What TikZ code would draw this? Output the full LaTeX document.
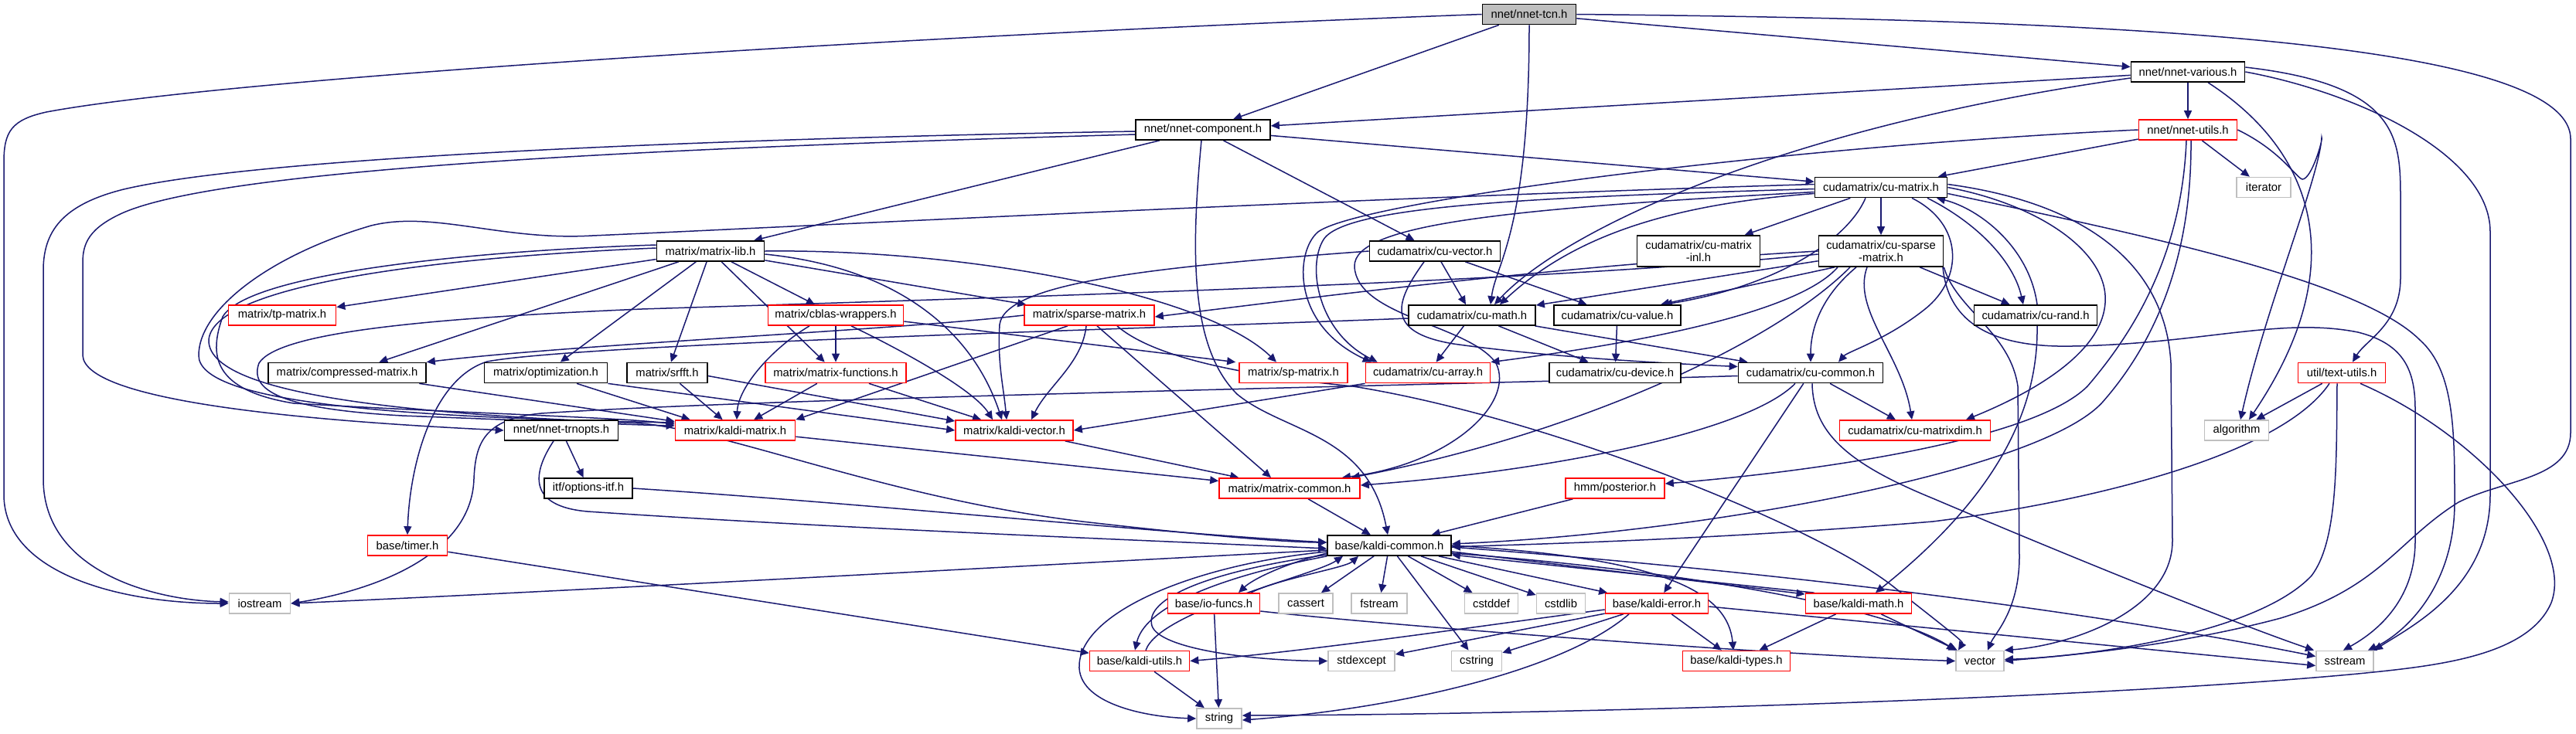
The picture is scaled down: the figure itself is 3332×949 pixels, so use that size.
\documentclass[tikz,border=0pt]{standalone}
\usepackage{fontspec}
\setmainfont{Liberation Sans}
\usetikzlibrary{arrows.meta}
\pgfdeclarelayer{background}
\pgfsetlayers{background,main}
\definecolor{edgeblue}{HTML}{191970}
\definecolor{sysgray}{HTML}{BFBFBF}
\definecolor{rootgray}{HTML}{BFBFBF}
\newcommand{\fnt}{\fontsize{7.4pt}{7.8pt}\selectfont}
\begin{document}
\begin{tikzpicture}[x=0.5pt,y=-0.5pt,
  nd/.style={draw=black, line width=0.85pt, fill=white, inner sep=0pt, minimum height=13pt, font=\fnt, align=center},
  trunc/.style={nd, draw=red},
  sysh/.style={nd, draw=sysgray},
  root/.style={nd, fill=rootgray},
  two/.style={minimum height=20pt},
  dep/.style={draw=edgeblue, line width=0.75pt, -{Triangle[length=5.5pt,width=5pt]}}]
\useasboundingbox (0,0) rectangle (3332,949);
% ---------------- nodes ----------------
\node[root, minimum width=60.5pt] (tcn) at (1978,18.5) {nnet/nnet-tcn.h};
\node[nd, minimum width=73.5pt] (various) at (2830,93) {nnet/nnet-various.h};
\node[nd, minimum width=87pt] (comp) at (1556,168) {nnet/nnet-component.h};
\node[trunc, minimum width=63.5pt] (utils) at (2830,168) {nnet/nnet-utils.h};
\node[nd, minimum width=85.5pt] (cumat) at (2433,242.5) {cudamatrix/cu-matrix.h};
\node[sysh, minimum width=35pt] (iter) at (2928,242.5) {iterator};
\node[nd, minimum width=69.5pt] (mlib) at (919,325) {matrix/matrix-lib.h};
\node[nd, minimum width=84.5pt] (cuvec) at (1856,325) {cudamatrix/cu-vector.h};
\node[nd, two, minimum width=79.5pt] (cuinl) at (2197,325) {cudamatrix/cu-matrix\\-inl.h};
\node[nd, two, minimum width=80.5pt] (cusp) at (2433,325) {cudamatrix/cu-sparse\\-matrix.h};
\node[trunc, minimum width=69.5pt] (tp) at (365,408) {matrix/tp-matrix.h};
\node[trunc, minimum width=87.5pt] (cblas) at (1081,408) {matrix/cblas-wrappers.h};
\node[trunc, minimum width=84pt] (sparse) at (1409,408) {matrix/sparse-matrix.h};
\node[nd, minimum width=82pt] (cumath) at (1904,408) {cudamatrix/cu-math.h};
\node[nd, minimum width=82pt] (cuval) at (2092,408) {cudamatrix/cu-value.h};
\node[nd, minimum width=79.5pt] (curand) at (2633,408) {cudamatrix/cu-rand.h};
\node[nd, minimum width=102pt] (compr) at (449,482.5) {matrix/compressed-matrix.h};
\node[nd, minimum width=79.5pt] (optim) at (706,482.5) {matrix/optimization.h};
\node[nd, minimum width=52pt] (srfft) at (863,482.5) {matrix/srfft.h};
\node[trunc, minimum width=91pt] (mfun) at (1081,482.5) {matrix/matrix-functions.h};
\node[trunc, minimum width=70pt] (sp) at (1673,482.5) {matrix/sp-matrix.h};
\node[trunc, minimum width=80.5pt] (cuarr) at (1847,482.5) {cudamatrix/cu-array.h};
\node[nd, minimum width=85pt] (cudev) at (2089,482.5) {cudamatrix/cu-device.h};
\node[nd, minimum width=93.5pt] (cucom) at (2342,482.5) {cudamatrix/cu-common.h};
\node[trunc, minimum width=56.5pt] (textu) at (3029,482.5) {util/text-utils.h};
\node[nd, minimum width=73.5pt] (trn) at (726,557) {nnet/nnet-trnopts.h};
\node[trunc, minimum width=77.5pt] (kmat) at (951,557) {matrix/kaldi-matrix.h};
\node[trunc, minimum width=76pt] (kvec) at (1312,557) {matrix/kaldi-vector.h};
\node[trunc, minimum width=97.5pt] (dim) at (2477,557) {cudamatrix/cu-matrixdim.h};
\node[sysh, minimum width=41.5pt] (algo) at (2893,557) {algorithm};
\node[nd, minimum width=57pt] (itf) at (761,632) {itf/options-itf.h};
\node[trunc, minimum width=91pt] (mcom) at (1668,632) {matrix/matrix-common.h};
\node[trunc, minimum width=64pt] (post) at (2089,632) {hmm/posterior.h};
\node[nd, minimum width=80pt] (kcom) at (1797,706) {base/kaldi-common.h};
\node[trunc, minimum width=51.5pt] (timer) at (527,706) {base/timer.h};
\node[sysh, minimum width=39.5pt] (iostr) at (336,781) {iostream};
\node[trunc, minimum width=59.5pt] (iof) at (1570,781) {base/io-funcs.h};
\node[sysh, minimum width=35pt] (cassert) at (1689,781) {cassert};
\node[sysh, minimum width=36pt] (fstream) at (1784,781) {fstream};
\node[sysh, minimum width=34.5pt] (cstddef) at (1929,781) {cstddef};
\node[sysh, minimum width=31.5pt] (cstdlib) at (2019,781) {cstdlib};
\node[trunc, minimum width=66.5pt] (kerr) at (2143,781) {base/kaldi-error.h};
\node[trunc, minimum width=68.5pt] (kmath) at (2404,781) {base/kaldi-math.h};
\node[sysh, minimum width=43pt] (stdexc) at (1761,855.5) {stdexcept};
\node[sysh, minimum width=32.5pt] (cstring) at (1910,855.5) {cstring};
\node[trunc, minimum width=69.5pt] (ktypes) at (2246,855.5) {base/kaldi-types.h};
\node[trunc, minimum width=64.5pt] (kutils) at (1474,855.5) {base/kaldi-utils.h};
\node[sysh, minimum width=31pt] (vector) at (2561,855.5) {vector};
\node[sysh, minimum width=37pt] (sstream) at (3033,855.5) {sstream};
\node[sysh, minimum width=29pt] (string) at (1577,930) {string};
% ---------------- edges ----------------
\begin{pgfonlayer}{background}
\fill[white] (0,0) rectangle (3332,949);
% tcn
\draw[dep] (tcn.west) .. controls (1200,45) and (300,100) .. (60,145) .. controls (15,155) and (5,170) .. (5,210) -- (5,640) .. controls (5,740) and (150,781) .. (iostr.west);
\draw[dep] (tcn) -- (comp);
\draw[dep] (tcn.south) .. controls (1978,300) and (1935,340) .. ([xshift=12pt]cumath.north);
\draw[dep] (tcn) -- (various);
\draw[dep] (tcn.east) .. controls (2700,25) and (3325,50) .. (3325,180) -- (3325,560) .. controls (3325,620) and (3240,620) .. (3180,650) .. controls (3100,700) and (3080,760) .. (2950,800) .. controls (2800,840) and (2650,850) .. (vector.east);
% various
\draw[dep] (various) -- (comp);
\draw[dep] ([yshift=-4pt]various.west) .. controls (2300,165) and (2020,300) .. ([xshift=14.5pt]cumath.north);
\draw[dep] (various) -- (utils);
\draw[dep] ([xshift=13pt]various.south) .. controls (3000,200) and (3040,350) .. ([xshift=8pt]algo.north);
\draw[dep] ([yshift=3pt]various.east) .. controls (3105,110) and (3105,180) .. (3105,260) -- (3105,360) .. controls (3105,420) and (3060,440) .. ([xshift=7pt]textu.north);
\draw[dep] (various.east) .. controls (3050,120) and (3221,200) .. (3221,300) -- (3221,640) .. controls (3221,760) and (3120,810) .. (sstream.north east);
% component
\draw[dep] ([yshift=-1pt]comp.west) .. controls (1000,178) and (350,200) .. (160,245) .. controls (80,265) and (56,300) .. (56,350) -- (56,620) .. controls (56,740) and (200,777) .. ([yshift=1pt]iostr.west);
\draw[dep] ([yshift=-3pt]comp.west) .. controls (900,190) and (300,215) .. (160,275) .. controls (115,295) and (107,315) .. (107,340) -- (107,460) .. controls (110,520) and (400,545) .. (trn.west);
\draw[dep] (comp) -- (mlib);
\draw[dep] (comp) -- (cumat);
\draw[dep] (comp) -- (cuvec);
\draw[dep] ([xshift=-1pt]comp.south) .. controls (1540,330) and (1540,450) .. (1600,510) .. controls (1660,560) and (1770,560) .. ([xshift=-1pt]kcom.north);
% utils
\draw[dep] (utils) -- (cumat);
\draw[dep] (utils) -- (iter);
\draw[dep] (utils.east) .. controls (2950,195) and (2970,230) .. (2978,232) .. controls (2990,232) and (3005,180) .. (3003,178) .. controls (3000,230) and (2930,400) .. ([xshift=2.5pt]algo.north);
\draw[dep] ([xshift=2pt]utils.south) .. controls (2835,330) and (2790,440) .. (2720,520) .. controls (2640,610) and (2200,690) .. ([yshift=1pt]kcom.east);
\draw[dep] ([xshift=-1pt]utils.south) .. controls (2822,330) and (2760,430) .. (2700,500) .. controls (2630,570) and (2350,610) .. ([yshift=3pt]post.east);
\draw[dep] (utils.west) .. controls (2300,190) and (1760,260) .. (1705,300) .. controls (1675,325) and (1670,420) .. ([xshift=4pt]cuarr.north west);
% cu-matrix
\draw[dep] ([yshift=2pt]cumat.west) .. controls (1700,258) and (1000,295) .. (766,305) .. controls (650,312) and (560,272) .. (480,292) .. controls (350,330) and (257,400) .. (257,460) .. controls (257,520) and (500,540) .. ([yshift=5pt]kmat.west);
\draw[dep] ([yshift=-1pt]cumat.west) .. controls (2000,255) and (1740,265) .. (1712,310) .. controls (1690,345) and (1705,430) .. ([xshift=8pt]cuarr.north west);
\draw[dep] ([yshift=-3pt]cumat.west) .. controls (1950,270) and (1750,290) .. (1752,345) .. controls (1755,410) and (1900,420) .. (1935,470) .. controls (1960,520) and (1880,600) .. ([xshift=-12pt]mcom.north east);
\draw[dep] ([yshift=-4pt]cumat.west) .. controls (2150,265) and (2030,310) .. ([xshift=18pt]cumath.north);
\draw[dep] (cumat) -- (cuinl);
\draw[dep] (cumat) -- (cusp);
\draw[dep] ([xshift=-10pt]cumat.south) .. controls (2390,310) and (2300,370) .. ([xshift=30pt]cuval.north);
\draw[dep] ([xshift=20pt]cumat.south) .. controls (2540,290) and (2540,360) .. (2490,400) .. controls (2440,440) and (2390,455) .. ([xshift=18pt]cucom.north);
\draw[dep] ([xshift=30pt]cumat.south) .. controls (2560,290) and (2605,340) .. ([xshift=-8pt]curand.north);
\draw[dep] ([xshift=1pt]curand.north) .. controls (2625,320) and (2560,270) .. ([xshift=36pt]cumat.south);
\draw[dep] (cumat.east) .. controls (2640,265) and (2735,330) .. (2722,400) .. controls (2710,470) and (2600,520) .. ([xshift=33pt]dim.north);
\draw[dep] ([yshift=-4pt]cumat.east) .. controls (2750,300) and (3050,360) .. (3130,440) .. controls (3175,480) and (3175,560) .. (3175,650) .. controls (3175,760) and (3110,820) .. ([xshift=-4pt]sstream.north east);
\draw[dep] ([yshift=2pt]cumat.east) .. controls (2680,260) and (2800,330) .. (2808,470) -- (2810,700) .. controls (2810,790) and (2680,835) .. (vector.north east);
% cu-sparse-matrix
\draw[dep] (cusp.west) .. controls (2000,345) and (1700,385) .. ([yshift=-1pt]sparse.east);
\draw[dep] (cusp) -- (cumath);
\draw[dep] ([xshift=-30pt]cusp.south) -- ([xshift=28pt]cuval.north);
\draw[dep] ([xshift=-28pt]cusp.south) .. controls (2330,400) and (2150,440) .. (cuarr.north east);
\draw[dep] ([xshift=-16pt]cusp.south) .. controls (2360,380) and (2342,420) .. (cucom.north);
\draw[dep] ([xshift=-9pt]cusp.south) .. controls (2395,400) and (2460,460) .. ([xshift=-2pt]dim.north);
\draw[dep] ([xshift=-20pt]cusp.south) .. controls (2300,440) and (2050,560) .. ([xshift=-6pt]mcom.north east);
\draw[dep] (cusp) -- (curand);
\draw[dep] ([yshift=-2pt]cusp.west) .. controls (2000,365) and (1300,385) .. (830,400) .. controls (550,412) and (360,430) .. (335,470) .. controls (320,510) and (380,530) .. (520,538) .. controls (700,545) and (820,550) .. ([yshift=3pt]kmat.west);
\draw[dep] ([xshift=40pt]cusp.south) .. controls (2520,420) and (2580,450) .. (2680,448) .. controls (2850,445) and (2950,410) .. (3050,430) .. controls (3110,445) and (3124,480) .. (3124,530) -- (3124,700) .. controls (3124,780) and (3070,820) .. ([xshift=-20pt]sstream.north east);
\draw[dep] (cusp.south east) .. controls (2530,400) and (2600,430) .. (2610,500) -- (2612,720) .. controls (2612,790) and (2580,820) .. ([xshift=5pt]vector.north);
% matrix-lib
\draw[dep] (mlib) -- (tp);
\draw[dep] (mlib) -- (compr);
\draw[dep] (mlib) -- (optim);
\draw[dep] (mlib) -- (srfft);
\draw[dep] (mlib) -- (mfun);
\draw[dep] (mlib) -- (cblas);
\draw[dep] (mlib) -- (sparse);
\draw[dep] (mlib.east) .. controls (1250,322) and (1560,380) .. ([xshift=-11pt]sp.north);
\draw[dep] ([yshift=-2pt]mlib.east) .. controls (1150,345) and (1255,420) .. ([xshift=-8pt]kvec.north);
\draw[dep] ([yshift=4pt]mlib.west) .. controls (600,325) and (320,355) .. (288,410) .. controls (270,460) and (275,505) .. (380,522) .. controls (600,535) and (800,540) .. ([yshift=4pt]kmat.west);
\draw[dep] ([yshift=2pt]mlib.west) .. controls (520,335) and (275,375) .. (270,440) .. controls (268,520) and (600,538) .. (830,548) .. controls (950,560) and (1150,645) .. (1400,675) .. controls (1600,698) and (1680,702) .. ([yshift=2pt]kcom.west);
% cblas-wrappers
\draw[dep] (cblas) -- (mfun);
\draw[dep] ([xshift=-17pt]cblas.south) .. controls (1000,450) and (955,500) .. ([xshift=1pt]kmat.north);
\draw[dep] ([xshift=10pt]cblas.south) .. controls (1170,455) and (1260,505) .. ([xshift=-14pt]kvec.north);
\draw[dep] ([yshift=-4pt]cblas.east) -- ([xshift=-2pt]sp.north west);
% sparse-matrix
\draw[dep] (sparse.west) .. controls (1150,428) and (750,445) .. (compr.north east);
\draw[dep] ([xshift=-14pt]sparse.south) -- (kmat.north east);
\draw[dep] ([xshift=-2pt]sparse.south) .. controls (1400,470) and (1355,500) .. ([xshift=11pt]kvec.north);
\draw[dep] ([xshift=5pt]sparse.south) -- ([xshift=-12pt]mcom.north);
\draw[dep] ([xshift=18pt]sparse.south) .. controls (1500,470) and (1650,490) .. (1750,500) .. controls (2000,540) and (2350,680) .. (2450,760) .. controls (2500,800) and (2540,830) .. ([xshift=-14pt]vector.north);
% lower matrix headers
\draw[dep] (compr) -- (kmat);
\draw[dep] (optim.south east) -- (kvec.west);
\draw[dep] ([xshift=20pt]optim.south) -- ([xshift=10pt]kmat.north west);
\draw[dep] (srfft) -- (kmat);
\draw[dep] ([yshift=-2pt]srfft.east) -- ([yshift=6pt]kvec.west);
\draw[dep] (mfun) -- (kmat);
\draw[dep] (mfun) -- (kvec);
\draw[dep] (cuarr.south west) -- (kvec.east);
% cu-math, cu-value, cu-vector
\draw[dep] (cumath) -- (cuarr);
\draw[dep] (cumath) -- (cudev);
\draw[dep] (cumath) -- (cucom);
\draw[dep] ([yshift=-2pt]cumath.west) .. controls (1500,425) and (750,445) .. (630,468) .. controls (560,490) and (530,600) .. (timer.north);
\draw[dep] (cuval) -- (cudev);
\draw[dep] (cuvec.west) .. controls (1500,345) and (1300,365) .. (1293,420) .. controls (1290,470) and (1298,500) .. ([xshift=-5pt]kvec.north);
\draw[dep] (cuvec) -- (cumath);
\draw[dep] (cuvec) -- (cuval);
\draw[dep] ([xshift=-7pt]cuvec.south) .. controls (1805,390) and (1790,430) .. (1880,445) .. controls (2000,462) and (2150,470) .. ([yshift=4pt]cucom.west);
% cu-common
\draw[dep] ([yshift=-2pt]cucom.west) .. controls (1800,500) and (1000,515) .. (700,535) .. controls (625,542) and (615,575) .. (613,620) .. controls (610,720) and (480,765) .. (iostr.east);
\draw[dep] ([xshift=1pt]cucom.south) .. controls (2345,560) and (2390,600) .. (2500,645) .. controls (2700,730) and (2900,810) .. ([xshift=-20pt]sstream.north);
\draw[dep] (cucom) -- (dim);
\draw[dep] (cucom) -- (kerr);
\draw[dep] ([xshift=-10pt]cucom.south) .. controls (2260,560) and (2000,610) .. ([yshift=2pt]mcom.east);
% cu-rand
\draw[dep] ([xshift=1pt]curand.south) .. controls (2637,550) and (2560,660) .. ([xshift=11pt]kmath.north);
% text-utils
\draw[dep] (textu) -- (algo);
\draw[dep] ([xshift=-3pt]textu.south) .. controls (3022,600) and (3024,700) .. (2990,745) .. controls (2920,820) and (2700,850) .. ([yshift=1pt]vector.east);
\draw[dep] ([xshift=12pt]textu.south) .. controls (3200,560) and (3330,700) .. (3300,780) .. controls (3270,850) and (3150,862) .. (3050,872) .. controls (2700,905) and (2000,925) .. ([yshift=2pt]string.east);
\draw[dep] ([xshift=-8pt]textu.south) .. controls (2950,590) and (2700,650) .. (2500,675) .. controls (2200,700) and (1950,705) .. ([yshift=-1pt]kcom.east);
% trnopts, options-itf
\draw[dep] (trn) -- (itf);
\draw[dep] ([xshift=-5pt]trn.south) .. controls (690,610) and (680,655) .. (760,662) .. controls (1100,685) and (1500,700) .. ([yshift=-2pt]kcom.west);
\draw[dep] (itf.east) .. controls (1100,650) and (1500,690) .. ([yshift=2pt]kcom.west);
% kaldi-matrix, kaldi-vector, matrix-common, posterior, timer
\draw[dep] (kmat) -- (mcom);
\draw[dep] (kvec) -- (mcom);
\draw[dep] (mcom) -- (kcom);
\draw[dep] (post) -- (kcom);
\draw[dep] (timer) -- (kutils);
% kaldi-common
\draw[dep] ([yshift=-3pt]kcom.west) .. controls (1400,728) and (800,762) .. (iostr.east);
\draw[dep] ([yshift=-5pt]kcom.west) .. controls (1660,730) and (1620,750) .. ([xshift=16pt]iof.north);
\draw[dep] ([xshift=24pt]iof.north) .. controls (1650,750) and (1740,735) .. ([xshift=-20pt]kcom.south);
\draw[dep] (kcom.south west) .. controls (1560,750) and (1480,790) .. ([xshift=-3pt]kutils.north);
\draw[dep] ([xshift=4pt]kutils.north) .. controls (1500,790) and (1700,745) .. ([xshift=-30pt]kcom.south);
\draw[dep] ([yshift=-4pt]kcom.west) .. controls (1550,730) and (1400,790) .. (1396,860) .. controls (1393,910) and (1480,928) .. (string.west);
\draw[dep] ([yshift=-6pt]kcom.west) .. controls (1560,740) and (1480,775) .. (1490,810) .. controls (1500,840) and (1620,855) .. (stdexc.west);
\draw[dep] (kcom) -- (cassert);
\draw[dep] (kcom) -- (fstream);
\draw[dep] (kcom) -- (cstddef);
\draw[dep] (kcom) -- (cstdlib);
\draw[dep] (kcom) -- (cstring);
\draw[dep] (kcom) -- (kerr);
\draw[dep] ([yshift=-4pt]kcom.east) -- ([yshift=6pt]kmath.west);
\draw[dep] ([xshift=6pt]kmath.north west) -- ([yshift=-6pt]kcom.east);
\draw[dep] (kcom.east) .. controls (2150,722) and (2235,765) .. ([xshift=-2pt]ktypes.north);
\draw[dep] ([yshift=-5pt]kcom.east) .. controls (2200,740) and (2450,790) .. (vector.north west);
\draw[dep] ([yshift=-1pt]kcom.east) .. controls (2300,740) and (2700,790) .. ([yshift=3pt]sstream.west);
% kaldi-error, kaldi-math, io-funcs, kaldi-utils
\draw[dep] ([yshift=-4pt]kerr.west) .. controls (1900,812) and (1700,842) .. (kutils.east);
\draw[dep] (kerr) -- (stdexc);
\draw[dep] (kerr) -- (cstring);
\draw[dep] ([xshift=-18pt]kerr.south) .. controls (2020,870) and (1800,918) .. ([yshift=-1pt]string.east);
\draw[dep] (kerr) -- (ktypes);
\draw[dep] ([yshift=-2pt]kerr.east) -- ([yshift=-3pt]sstream.west);
\draw[dep] (kmath) -- (ktypes);
\draw[dep] (kmath) -- (vector);
\draw[dep] (iof) -- (string);
\draw[dep] ([yshift=-5pt]iof.east) .. controls (1800,810) and (2300,848) .. (vector.west);
\draw[dep] (kutils) -- (string);
\end{pgfonlayer}
\end{tikzpicture}
\end{document}
